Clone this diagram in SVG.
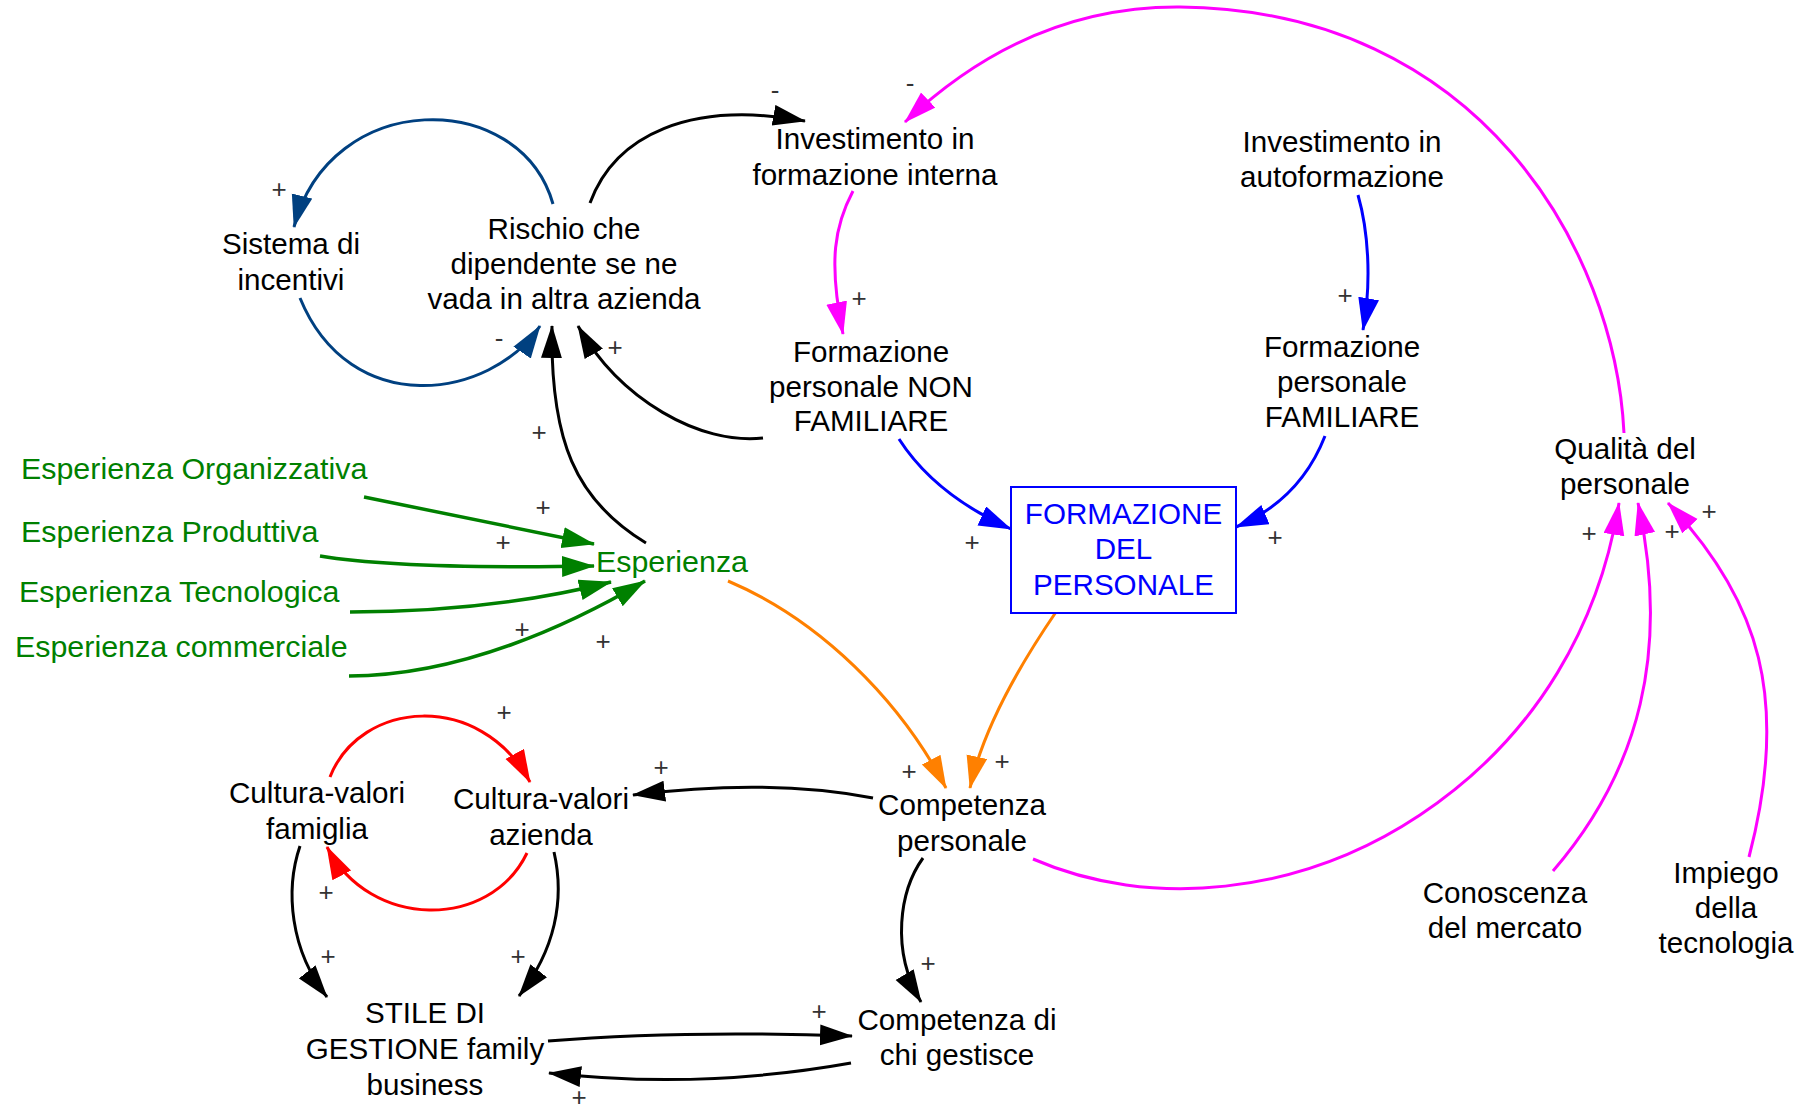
<svg xmlns="http://www.w3.org/2000/svg" width="1809" height="1112" viewBox="0 0 1809 1112">
<style>
.t{font-family:"Liberation Sans",Arial,sans-serif;font-size:29.6px;fill:#000;text-anchor:middle}
.g{fill:#008000;font-size:30.4px}
.b{fill:#0000ff}
.s{text-anchor:start}
.lab{font-family:"Liberation Sans",Arial,sans-serif;font-size:26px;fill:#333;text-anchor:middle;dominant-baseline:central}
.c{fill:none;stroke-width:3}
.k{stroke:#000}.nv{stroke:#004080}.mg{stroke:#ff00ff}.bl{stroke:#0000ff}.or{stroke:#ff8000}.gr{stroke:#008000;stroke-width:3.5}.rd{stroke:#ff0000}
</style>
<defs>
<marker id="ak" markerUnits="userSpaceOnUse" markerWidth="34" markerHeight="22" refX="32" refY="10.5" orient="auto"><path d="M0,0 L33,10.5 L0,21 z" fill="#000"/></marker>
<marker id="anv" markerUnits="userSpaceOnUse" markerWidth="34" markerHeight="22" refX="32" refY="10.5" orient="auto"><path d="M0,0 L33,10.5 L0,21 z" fill="#004080"/></marker>
<marker id="amg" markerUnits="userSpaceOnUse" markerWidth="34" markerHeight="22" refX="32" refY="10.5" orient="auto"><path d="M0,0 L33,10.5 L0,21 z" fill="#ff00ff"/></marker>
<marker id="abl" markerUnits="userSpaceOnUse" markerWidth="34" markerHeight="22" refX="32" refY="10.5" orient="auto"><path d="M0,0 L33,10.5 L0,21 z" fill="#0000ff"/></marker>
<marker id="aor" markerUnits="userSpaceOnUse" markerWidth="34" markerHeight="22" refX="32" refY="10.5" orient="auto"><path d="M0,0 L33,10.5 L0,21 z" fill="#ff8000"/></marker>
<marker id="agr" markerUnits="userSpaceOnUse" markerWidth="34" markerHeight="22" refX="32" refY="10.5" orient="auto"><path d="M0,0 L33,10.5 L0,21 z" fill="#008000"/></marker>
<marker id="ard" markerUnits="userSpaceOnUse" markerWidth="34" markerHeight="22" refX="32" refY="10.5" orient="auto"><path d="M0,0 L33,10.5 L0,21 z" fill="#ff0000"/></marker>
</defs>
<rect width="1809" height="1112" fill="#fff"/>

<g id="connectors">
<path class="c nv" marker-end="url(#anv)" d="M553,204 C520,88 330,88 294,227"/>
<path class="c nv" marker-end="url(#anv)" d="M300,298 C350,420 490,400 540,326"/>
<path class="c k" marker-end="url(#ak)" d="M590,203 C615,135 690,100 805,121"/>
<path class="c mg" marker-end="url(#amg)" d="M1624,433 C1615,250 1480,10 1180,7 C1050,6 960,70 905,122"/>
<path class="c mg" marker-end="url(#amg)" d="M853,191 C835,225 828,260 843,334"/>
<path class="c k" marker-end="url(#ak)" d="M763,438 C700,445 620,400 578,326"/>
<path class="c k" marker-end="url(#ak)" d="M646,543 C575,500 550,440 552,326"/>
<path class="c bl" marker-end="url(#abl)" d="M1358,195 C1368,230 1372,280 1363,330"/>
<path class="c bl" marker-end="url(#abl)" d="M899,439 Q935,495 1011,529"/>
<path class="c bl" marker-end="url(#abl)" d="M1325,436 Q1300,500 1236,527"/>
<path class="c gr" marker-end="url(#agr)" d="M364,497 L594,544"/>
<path class="c gr" marker-end="url(#agr)" d="M320,556 C380,566 480,568 594,566"/>
<path class="c gr" marker-end="url(#agr)" d="M350,612 C450,612 540,600 611,582"/>
<path class="c gr" marker-end="url(#agr)" d="M349,676 C460,676 570,625 645,581"/>
<path class="c or" marker-end="url(#aor)" d="M728,581 C820,620 900,700 946,788"/>
<path class="c or" marker-end="url(#aor)" d="M1056,612 C1030,650 985,720 970,788"/>
<path class="c k" marker-end="url(#ak)" d="M873,798 Q770,778 633,795"/>
<path class="c k" marker-end="url(#ak)" d="M923,858 C900,890 890,950 921,1002"/>
<path class="c mg" marker-end="url(#amg)" d="M1033,859 C1150,910 1300,895 1420,815 C1540,735 1600,620 1619,503"/>
<path class="c mg" marker-end="url(#amg)" d="M1553,871 C1640,770 1670,650 1638,503"/>
<path class="c mg" marker-end="url(#amg)" d="M1749,857 C1790,700 1760,600 1668,503"/>
<path class="c rd" marker-end="url(#ard)" d="M330,777 C360,700 480,690 530,782"/>
<path class="c rd" marker-end="url(#ard)" d="M527,853 C490,930 370,930 327,847"/>
<path class="c k" marker-end="url(#ak)" d="M300,846 C285,890 290,950 327,997"/>
<path class="c k" marker-end="url(#ak)" d="M554,852 C565,900 555,950 519,996"/>
<path class="c k" marker-end="url(#ak)" d="M548,1041 Q680,1030 852,1036"/>
<path class="c k" marker-end="url(#ak)" d="M851,1063 Q700,1090 549,1073"/>
</g>

<g id="polarities">
<text class="lab" x="279" y="189">+</text>
<text class="lab" x="499" y="338">-</text>
<text class="lab" x="539" y="432">+</text>
<text class="lab" x="615" y="347">+</text>
<text class="lab" x="775" y="90">-</text>
<text class="lab" x="910" y="83">-</text>
<text class="lab" x="859" y="298">+</text>
<text class="lab" x="1345" y="295">+</text>
<text class="lab" x="972" y="542">+</text>
<text class="lab" x="1275" y="537">+</text>
<text class="lab" x="543" y="507">+</text>
<text class="lab" x="503" y="542">+</text>
<text class="lab" x="522" y="629">+</text>
<text class="lab" x="603" y="641">+</text>
<text class="lab" x="504" y="712">+</text>
<text class="lab" x="326" y="892">+</text>
<text class="lab" x="661" y="767">+</text>
<text class="lab" x="909" y="771">+</text>
<text class="lab" x="1002" y="761">+</text>
<text class="lab" x="328" y="956">+</text>
<text class="lab" x="518" y="956">+</text>
<text class="lab" x="928" y="963">+</text>
<text class="lab" x="819" y="1011">+</text>
<text class="lab" x="579" y="1097">+</text>
<text class="lab" x="1589" y="533">+</text>
<text class="lab" x="1672" y="531">+</text>
<text class="lab" x="1709" y="511">+</text>
</g>

<g id="sistema"><text class="t"><tspan x="291" y="254">Sistema di</tspan><tspan x="291" y="290">incentivi</tspan></text></g>
<g id="rischio"><text class="t"><tspan x="564" y="239">Rischio che</tspan><tspan x="564" y="274">dipendente se ne</tspan><tspan x="564" y="309">vada in altra azienda</tspan></text></g>
<g id="inv_interna"><text class="t"><tspan x="875" y="149">Investimento in</tspan><tspan x="875" y="185">formazione interna</tspan></text></g>
<g id="inv_auto"><text class="t"><tspan x="1342" y="152">Investimento in</tspan><tspan x="1342" y="187">autoformazione</tspan></text></g>
<g id="form_non"><text class="t"><tspan x="871" y="362">Formazione</tspan><tspan x="871" y="397">personale NON</tspan><tspan x="871" y="431">FAMILIARE</tspan></text></g>
<g id="form_fam"><text class="t"><tspan x="1342" y="357">Formazione</tspan><tspan x="1342" y="392">personale</tspan><tspan x="1342" y="427">FAMILIARE</tspan></text></g>
<g id="formazione_personale"><rect x="1011" y="487" width="225" height="126" fill="#fff" stroke="#0000ff" stroke-width="2"/><text class="t b"><tspan x="1123.5" y="524">FORMAZIONE</tspan><tspan x="1123.5" y="559">DEL</tspan><tspan x="1123.5" y="595">PERSONALE</tspan></text></g>
<g id="qualita"><text class="t"><tspan x="1625" y="459">Qualità del</tspan><tspan x="1625" y="494">personale</tspan></text></g>
<g id="esperienza"><text class="t g" x="672" y="572">Esperienza</text></g>
<g id="esp_org"><text class="t g s" x="21" y="479">Esperienza Organizzativa</text></g>
<g id="esp_prod"><text class="t g s" x="21" y="542">Esperienza Produttiva</text></g>
<g id="esp_tec"><text class="t g s" x="19" y="602">Esperienza Tecnologica</text></g>
<g id="esp_com"><text class="t g s" x="15" y="657">Esperienza commerciale</text></g>
<g id="cultura_famiglia"><text class="t"><tspan x="317" y="803">Cultura-valori</tspan><tspan x="317" y="839">famiglia</tspan></text></g>
<g id="cultura_azienda"><text class="t"><tspan x="541" y="809">Cultura-valori</tspan><tspan x="541" y="845">azienda</tspan></text></g>
<g id="competenza"><text class="t"><tspan x="962" y="815">Competenza</tspan><tspan x="962" y="851">personale</tspan></text></g>
<g id="stile"><text class="t"><tspan x="425" y="1023">STILE DI</tspan><tspan x="425" y="1059">GESTIONE family</tspan><tspan x="425" y="1095">business</tspan></text></g>
<g id="competenza_gestisce"><text class="t"><tspan x="957" y="1030">Competenza di</tspan><tspan x="957" y="1065">chi gestisce</tspan></text></g>
<g id="conoscenza"><text class="t"><tspan x="1505" y="903">Conoscenza</tspan><tspan x="1505" y="938">del mercato</tspan></text></g>
<g id="impiego"><text class="t"><tspan x="1726" y="883">Impiego</tspan><tspan x="1726" y="918">della</tspan><tspan x="1726" y="953">tecnologia</tspan></text></g>
</svg>
